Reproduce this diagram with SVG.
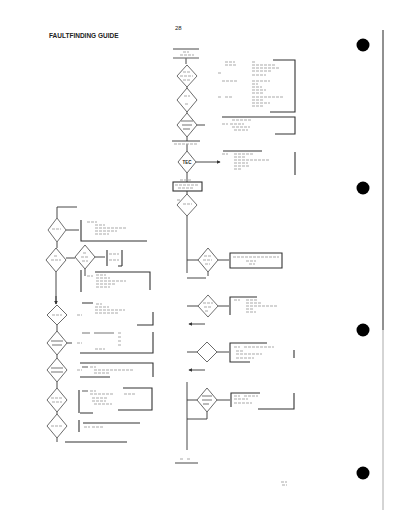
<svg xmlns="http://www.w3.org/2000/svg" width="400" height="518" viewBox="0 0 400 518">
<style>
.ln{stroke:#333;stroke-width:0.9;fill:none}
.bx{stroke:#333;stroke-width:1.1;fill:none}
.dia{stroke:#444;stroke-width:0.8;fill:#fff}
.tx{stroke:#aaa;stroke-width:1.1;fill:none;stroke-dasharray:3 1}
.tk{stroke:#777;stroke-width:1.2;fill:none}
.lbl{font-family:"Liberation Sans",Arial,sans-serif;fill:#222}
</style>
<defs>
<marker id="ah" viewBox="0 0 6 6" refX="5" refY="3" markerWidth="4" markerHeight="4" orient="auto"><path d="M0,0L6,3L0,6z" fill="#333"/></marker>
<polygon id="d12" points="0,-12 10,0 0,12 -10,0"/>
<polygon id="d10" points="0,-10 10,0 0,10 -10,0"/>
</defs>
<rect width="400" height="518" fill="#fff"/>
<text class="lbl" x="175" y="30" font-size="6" fill="#555">28</text>
<text class="lbl" x="49" y="38" font-size="6.5" font-weight="bold">FAULTFINDING GUIDE</text>

<g id="connectors">
<path class="ln" d="M186,58V64 M187,87V88 M187,112V113 M187,137V141 M187,144V151 M187,173V182 M187,191V194 M187,216V273 M197,125H205"/>
<path class="ln" d="M196,162H220" marker-end="url(#ah)"/>
<path class="ln" d="M187,260H198 M218,260H229 M208,272V276 M187,278H206"/>
<path class="ln" d="M187,306H198 M218,306H229"/>
<path class="ln" d="M205,324H189" marker-end="url(#ah)"/>
<path class="ln" d="M187,352H197 M217,352H229"/>
<path class="ln" d="M205,370H189" marker-end="url(#ah)"/>
<path class="ln" d="M187,382V450 M187,400H197 M207,412V419H187 M217,400H230 M175,463H198"/>
<path class="ln" d="M57,207H77 M57,207V218 M66,230H79 M57,242V248 M66,258H75 M95,257H105 M85,269V276 M56,272V304"/>
<path class="ln" d="M57,325V331 M67,343H72 M57,355V358 M57,382V388 M57,412V414 M57,438V442"/>
<path class="ln" d="M56,296V304" marker-end="url(#ah)"/>
</g>

<g id="top-box"><path class="ln" d="M173,49H199"/><path class="tk" d="M173,58H199" stroke-width="1.5" stroke="#333"/><path class="tx" d="M183,52h6 M180,55h14"/></g>
<g id="dA"><use href="#d12" class="dia" transform="translate(187,76) scale(1,0.92)"/><path class="tx" d="M183,72h8 M180,76h13 M183,80h7"/></g>
<g id="dB"><use href="#d12" class="dia" x="187" y="100"/><path class="tx" d="M184,96h6 M185,104h4"/></g>
<g id="dC"><use href="#d12" class="dia" x="187" y="125"/><path class="tk" d="M181,121h12 M182,125h10 M183,129h7"/></g>
<g id="bar2"><path class="ln" d="M172,141H200"/><path class="tx" d="M174,144h24"/></g>
<g id="dTEC"><polygon class="dia" points="187,151 196,162 187,173 178,162"/><text class="lbl" x="182.5" y="163.5" font-size="4.5" font-weight="bold">TEC</text></g>
<g id="box-mid"><rect class="bx" x="173" y="182" width="29" height="9"/><path class="tx" d="M180,180h12 M175,185h24 M178,188h16"/></g>
<g id="dE1"><use href="#d12" class="dia" transform="translate(187,205) scale(1,0.92)"/><path class="tx" d="M183,204h9"/><path class="tx" d="M177,200h3"/></g>

<g id="r-top"><path class="bx" d="M273,60H295V112H270"/><path class="tx" d="M225,62h10 M225,65h12 M252,62h3 M252,65h24 M252,68h28 M252,71h20 M252,75h14 M218,73h3 M222,81h16 M252,81h18 M252,84h6 M252,87h10 M252,90h14 M252,93h12 M218,97h3 M225,97h7 M252,97h32 M252,100h12 M252,103h18 M252,106h12"/></g>
<g id="r-b2"><path class="bx" d="M222,117H295V134H275"/><path class="tx" d="M232,120h20 M222,124h6 M230,124h14 M232,127h18 M234,130h14"/></g>
<g id="r-b3"><path class="bx" d="M223,151H262 M295,152V175"/><path class="tx" d="M222,154h6 M234,154h20 M234,157h12 M234,160h36 M234,163h14 M234,166h16 M234,169h8"/></g>

<g id="dD"><use href="#d12" class="dia" x="208" y="260"/><path class="tx" d="M204,256h7 M203,260h9 M205,264h5"/></g>
<g id="bD"><path class="bx" d="M230,253H282V268H230Z"/><path class="tx" d="M233,257h46 M246,261h10 M249,264h6"/></g>
<g id="dE"><use href="#d12" class="dia" transform="translate(208,306) scale(1,0.92)"/><path class="tx" d="M203,303h10 M204,307h8 M205,311h4"/></g>
<g id="bE"><path class="bx" d="M257,297H230V315"/><path class="tx" d="M234,300h6 M246,300h12 M246,303h16 M246,306h32 M246,309h8 M246,312h10"/></g>
<g id="dF"><use href="#d10" class="dia" x="207" y="352"/></g>
<g id="bF"><path class="bx" d="M267,343H230V362H250 M294,350V358"/><path class="tx" d="M234,347h6 M244,347h30 M236,351h8 M236,354h26 M236,358h18"/></g>
<g id="dG"><use href="#d12" class="dia" x="207" y="400"/><path class="tk" d="M202,396h10 M202,400h10 M203,404h6"/></g>
<g id="bG"><path class="bx" d="M260,393H231V407 M294,393V409H258"/><path class="tx" d="M234,396h6 M244,396h14 M234,399h14 M234,403h18"/></g>
<g id="end-c"><path class="tx" d="M180,459h3 M187,459h3"/></g>

<g id="L1"><use href="#d12" class="dia" transform="translate(57,230) scale(0.9,1)"/><path class="tx" d="M52,229h9"/></g>
<g id="bL1"><path class="bx" d="M81,220V241H147"/><path class="tx" d="M87,222h10 M95,225h10 M95,228h32 M95,231h22 M95,234h14"/></g>
<g id="L2"><use href="#d12" class="dia" x="56" y="260"/><path class="tx" d="M54,256h4 M51,260h10"/></g>
<g id="L3"><use href="#d12" class="dia" x="85" y="257"/><path class="tx" d="M83,253h4 M81,257h8 M82,261h6"/></g>
<g id="bL3"><path class="bx" d="M107,250V266 M122,250V266 M118,266H122"/><path class="tx" d="M109,254h10 M109,260h10"/></g>
<g id="bL3b"><path class="bx" d="M81,270V292 M95,272H150V290"/><path class="tx" d="M87,276h6 M96,275h10 M96,278h14 M96,281h30 M96,284h20 M96,287h14"/></g>
<g id="L4"><use href="#d10" class="dia" x="57" y="315"/><path class="tx" d="M52,315h10"/></g>
<g id="bL4"><path class="bx" d="M82,303H93 M153,312V325H137"/><path class="tx" d="M77,315h5 M96,304h6 M95,307h14 M95,310h30 M95,313h24"/></g>
<g id="L5"><use href="#d12" class="dia" x="57" y="343"/><path class="tk" d="M51,341h12 M52,345h10"/></g>
<g id="bL5"><path class="bx" d="M153,332V353H80"/><path class="tk" d="M82,333h8 M94,333h20"/><path class="tx" d="M77,343h5 M118,333h3 M118,337h4 M118,341h4 M118,345h4 M95,349h10"/></g>
<g id="L6"><use href="#d12" class="dia" x="57" y="370"/><path class="tk" d="M51,368h12 M51,372h12"/></g>
<g id="bL6"><path class="bx" d="M80,363H153V377 M80,377H110"/><path class="tk" d="M82,367h6"/><path class="tx" d="M77,370h5 M90,367h6 M94,370h40 M94,373h16"/></g>
<g id="L7"><use href="#d12" class="dia" x="57" y="400"/><path class="tx" d="M51,398h12 M52,402h10"/></g>
<g id="bL7"><path class="bx" d="M79,390V413 M123,388H152V410H118 M80,413H93"/><path class="tk" d="M82,391h6"/><path class="tx" d="M90,391h6 M90,394h24 M124,394h12 M92,398h16 M92,401h14 M94,404h18"/></g>
<g id="L8"><use href="#d12" class="dia" x="57" y="426"/><path class="tx" d="M51,426h12"/></g>
<g id="bL8"><path class="bx" d="M79,420V432 M83,423H140 M65,442H127"/><path class="tx" d="M84,427h6 M92,427h12"/></g>

<g id="margin">
<path d="M383,30V330" stroke="#222" stroke-width="1"/>
<path d="M383,330V510" stroke="#aaa" stroke-width="1"/>
<circle cx="363" cy="45" r="6.5" fill="#000"/>
<circle cx="363" cy="188" r="6.5" fill="#000"/>
<circle cx="363" cy="330" r="6.5" fill="#000"/>
<circle cx="363" cy="473" r="6.5" fill="#000"/>
<path class="tx" d="M281,482h6 M282,485h5"/>
</g>
</svg>
